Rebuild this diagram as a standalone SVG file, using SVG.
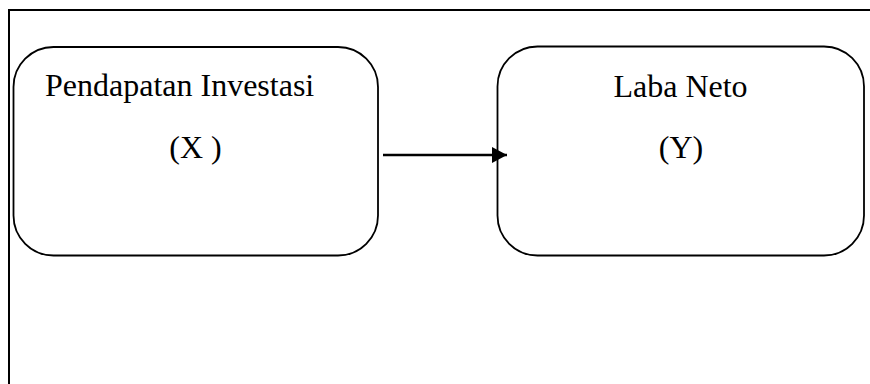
<svg xmlns="http://www.w3.org/2000/svg" width="870" height="384" viewBox="0 0 870 384">
  <defs>
    <style>
      .frame { fill: none; stroke: #000; stroke-width: 2; }
      .box { fill: #fff; stroke: #000; stroke-width: 1.8; }
      .label { font-family: "Liberation Serif", "Times New Roman", serif; font-size: 32px; fill: #000; }
      .link { fill: none; stroke: #000; stroke-width: 2.4; }
    </style>
    <marker id="arrowhead" markerWidth="16" markerHeight="18" refX="15" refY="8.5" orient="auto" markerUnits="userSpaceOnUse">
      <path d="M0,0.5 L15,8.5 L0,16.5 Z" fill="#000"/>
    </marker>
  </defs>
  <rect width="870" height="384" fill="#fff"/>

  <!-- outer frame: top and left rules only -->
  <path class="frame" d="M9,384 L9,10 L870,10"/>

  <g id="node-pendapatan">
    <rect class="box" x="13.5" y="47" width="364.5" height="208.5" rx="40" ry="40"/>
    <text class="label" x="45" y="96">Pendapatan Investasi</text>
    <text class="label" x="195.5" y="158" text-anchor="middle">(X )</text>
  </g>

  <g id="node-laba">
    <rect class="box" x="497.5" y="46.5" width="366.5" height="209" rx="40" ry="40"/>
    <text class="label" x="680.5" y="97" text-anchor="middle">Laba Neto</text>
    <text class="label" x="681" y="158" text-anchor="middle">(Y)</text>
  </g>

  <g id="connectors">
    <line class="link" x1="383" y1="155" x2="507" y2="155" marker-end="url(#arrowhead)"/>
  </g>
</svg>
